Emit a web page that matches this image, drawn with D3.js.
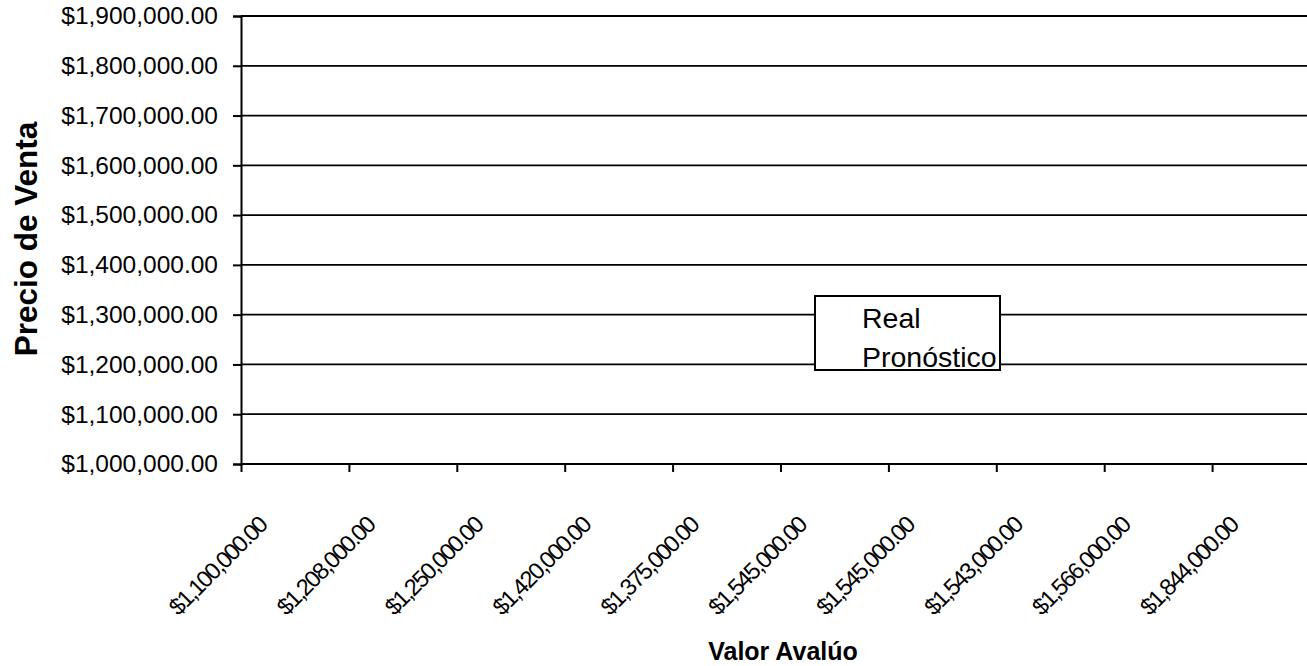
<!DOCTYPE html>
<html>
<head>
<meta charset="utf-8">
<script src="https://cdn.jsdelivr.net/npm/d3@7"></script>
<style>
  html, body { margin: 0; padding: 0; background: #fff; }
  svg { display: block; font-family: "Liberation Sans", Arial, sans-serif; }
</style>
</head>
<body>
<svg id="chart" width="1307" height="666"></svg>
<script>
// Appraisal values used as category labels along the horizontal axis
const avaluos = [1100000, 1208000, 1250000, 1420000, 1375000, 1545000, 1545000, 1543000, 1566000, 1844000];
// Sale price axis range and tick values
const yDomain = [1000000, 1900000];
const yTicks = [1000000, 1100000, 1200000, 1300000, 1400000, 1500000, 1600000, 1700000, 1800000, 1900000];
// Legend entries
const seriesNames = ["Real", "Pronóstico"];

const W = 1307, H = 666;
const margin = { left: 241, top: 16, bottom: 464 };
const step = 107.9;

const svg = d3.select("#chart");
const money = v => "$" + d3.format(",.2f")(v);

const x = d3.scalePoint()
  .domain(d3.range(avaluos.length))
  .range([margin.left, margin.left + step * (avaluos.length - 1)]);
const plotRight = x(avaluos.length - 1) + step;

const y = d3.scaleLinear().domain(yDomain).range([margin.bottom, margin.top]);

// Horizontal gridlines
svg.append("g")
  .selectAll("line")
  .data(yTicks)
  .join("line")
  .attr("x1", margin.left)
  .attr("x2", plotRight)
  .attr("y1", d => y(d))
  .attr("y2", d => y(d))
  .attr("stroke", "#000")
  .attr("stroke-width", 1.8);

// Vertical axis
const yAxis = svg.append("g")
  .attr("transform", `translate(${margin.left},0)`)
  .call(d3.axisLeft(y).tickValues(yTicks).tickSize(8).tickPadding(15).tickFormat(money));
yAxis.select(".domain").attr("stroke", "#000").attr("stroke-width", 2);
yAxis.selectAll(".tick line").attr("stroke", "#000").attr("stroke-width", 2);
yAxis.selectAll(".tick text")
  .attr("font-size", 24.5)
  .attr("font-family", "Liberation Sans, Arial, sans-serif")
  .attr("fill", "#000");

// Horizontal category axis, labels slanted at 45 degrees
const xAxis = svg.append("g")
  .attr("transform", `translate(0,${margin.bottom})`)
  .call(d3.axisBottom(x).tickSize(8).tickSizeOuter(0).tickFormat(i => money(avaluos[i])));
xAxis.select(".domain")
  .attr("d", `M${margin.left},0H${plotRight}`)
  .attr("stroke", "#000").attr("stroke-width", 2);
xAxis.selectAll(".tick line").attr("stroke", "#000").attr("stroke-width", 2);
xAxis.selectAll(".tick text")
  .attr("font-size", 23.5)
  .attr("letter-spacing", -1.8)
  .attr("font-family", "Liberation Sans, Arial, sans-serif")
  .attr("fill", "#000")
  .attr("text-anchor", "end")
  .attr("x", 0).attr("y", 0).attr("dy", "0.35em")
  .attr("transform", "translate(21,57) rotate(-45)");

// Axis titles
svg.append("text")
  .attr("transform", `translate(37,${(margin.top + margin.bottom) / 2 - 1}) rotate(-90)`)
  .attr("text-anchor", "middle")
  .attr("font-size", 31.5)
  .attr("font-weight", "bold")
  .text("Precio de Venta");

svg.append("text")
  .attr("x", 783)
  .attr("y", 660)
  .attr("text-anchor", "middle")
  .attr("font-size", 25)
  .attr("font-weight", "bold")
  .text("Valor Avalúo");

// Legend
const legend = svg.append("g").attr("transform", "translate(815,296)");
legend.append("rect")
  .attr("width", 185).attr("height", 74)
  .attr("fill", "#fff").attr("stroke", "#000").attr("stroke-width", 2);
legend.selectAll("text")
  .data(seriesNames)
  .join("text")
  .attr("x", 47)
  .attr("y", (d, i) => 32 + i * 39)
  .attr("font-size", 28.5)
  .text(d => d);
</script>
</body>
</html>
